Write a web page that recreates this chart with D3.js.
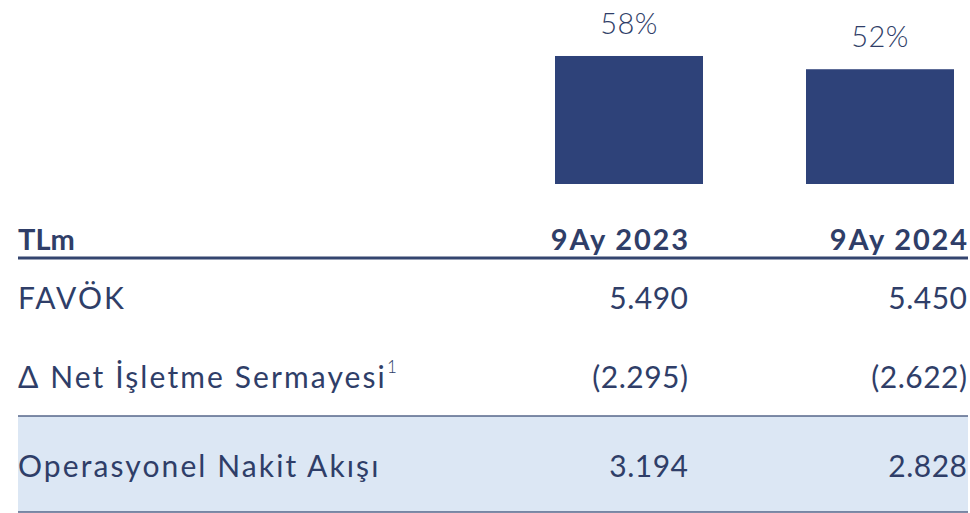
<!DOCTYPE html>
<html><head><meta charset="utf-8">
<script src="https://cdn.jsdelivr.net/npm/d3@7"></script>
<style>body{margin:0;background:#fff}svg{display:block}</style>
</head><body>
<svg id="c" width="970" height="513"></svg>
<script>
const periods = ["9Ay 2023", "9Ay 2024"];
const margins = [58, 52];
const rowLabels = ["FAVÖK", "Δ Net İşletme Sermayesi", "Operasyonel Nakit Akışı"];
const row2023 = ["5.490", "(2.295)", "3.194"];
const row2024 = ["5.450", "(2.622)", "2.828"];
const unitLabel = "TLm";

const navy = "#2E4279", textC = "#2F3E68", band = "#DCE7F4";
const font = "Lato, 'DejaVu Sans', sans-serif";
const svg = d3.select("#c");

// bars
const x = d3.scaleOrdinal().domain(periods).range([629, 880]);
const barW = 148;
const y = d3.scaleLinear().domain([0, 100]).range([184, 184 - 220.7]);

svg.selectAll("rect.bar").data(periods).join("rect")
  .attr("x", d => x(d) - barW / 2).attr("width", barW)
  .attr("y", (d, i) => y(margins[i])).attr("height", (d, i) => y(0) - y(margins[i]))
  .attr("fill", navy);

svg.selectAll("text.pct").data(periods).join("text")
  .attr("x", d => x(d)).attr("y", (d, i) => y(margins[i]) - 22)
  .attr("text-anchor", "middle").attr("fill", textC)
  .style("font-family", font).style("font-size", "29px").style("font-weight", 300)
  .style("letter-spacing", "0.5px")
  .text((d, i) => margins[i] + "%");

// table
const left = 18, right = 968;
const colRight = d3.scaleOrdinal().domain(periods).range([688, 967]);
const rowY = d3.scaleOrdinal().domain(rowLabels).range([309, 388, 477]);

svg.append("rect").attr("x", left).attr("y", 416).attr("width", right - left).attr("height", 96).attr("fill", band);
svg.append("line").attr("x1", left).attr("x2", right).attr("y1", 258).attr("y2", 258).attr("stroke", "#34456f").attr("stroke-width", 3);
svg.append("line").attr("x1", left).attr("x2", right).attr("y1", 416).attr("y2", 416).attr("stroke", "#56668a").attr("stroke-width", 1.5);
svg.append("line").attr("x1", left).attr("x2", right).attr("y1", 512).attr("y2", 512).attr("stroke", "#56668a").attr("stroke-width", 1.5);

svg.append("text").attr("x", left).attr("y", 250).attr("fill", textC)
  .style("font-family", font).style("font-size", "29px").style("font-weight", 700).text(unitLabel);
svg.selectAll("text.hdr").data(periods).join("text")
  .attr("x", d => colRight(d) + 1.8).attr("y", 250).attr("text-anchor", "end").attr("fill", textC)
  .style("font-family", font).style("font-size", "29px").style("font-weight", 700)
  .style("letter-spacing", "1.8px").text(d => d);

const lbl = svg.selectAll("text.lbl").data(rowLabels).join("text")
  .attr("x", left).attr("y", d => rowY(d)).attr("fill", textC)
  .style("font-family", font).style("font-size", "30px").style("font-weight", 400)
  .style("letter-spacing", "2.1px")
  .text(d => d);
lbl.filter((d, i) => i === 1).append("tspan").attr("dy", -15).style("font-size", "17px")
  .style("font-weight", 300).style("letter-spacing", "0px").text("1");

[row2023, row2024].forEach((vals, ci) => {
  svg.selectAll("text.v" + ci).data(vals).join("text")
    .attr("x", colRight(periods[ci]) + 0.5).attr("y", (d, i) => rowY(rowLabels[i]))
    .attr("text-anchor", "end").attr("fill", textC)
    .style("font-family", font).style("font-size", "30px").style("font-weight", 400)
    .style("letter-spacing", "0.5px")
    .text(d => d);
});
</script>
</body></html>
